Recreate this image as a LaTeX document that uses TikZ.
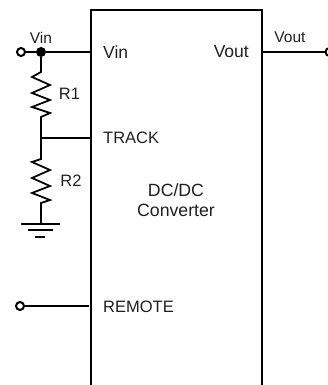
\documentclass[tikz,border=0pt]{standalone}
\usepackage{fontspec}
\setmainfont{Liberation Sans}
\begin{document}
\begin{tikzpicture}[x=1pt,y=-1pt,line cap=butt,
  wire/.style={draw=black,line width=1.75pt,line join=miter},
  term/.style={circle,draw=black,line width=2pt,fill=white,minimum size=8pt,inner sep=0pt},
  junction/.style={circle,fill=black,minimum size=10pt,inner sep=0pt},
  lab/.style={font=\fontsize{16.5}{19}\selectfont,text=black!88,inner sep=0pt},
  pin/.style={font=\fontsize{17.5}{19}\selectfont,text=black!88,inner sep=0pt},
  center label/.style={font=\fontsize{17.7}{20}\selectfont,text=black!88,inner sep=0pt},
  small/.style={font=\fontsize{15.5}{18}\selectfont,text=black!88,inner sep=0pt}]
\path[use as bounding box] (0,0) rectangle (328,385);
\clip (0,0) rectangle (328,385);
\coordinate (boxBL) at (91,386);
\coordinate (boxTL) at (91,10);
\coordinate (boxTR) at (262,10);
\coordinate (boxBR) at (262,386);
\coordinate (pinVin) at (91,52);
\coordinate (pinVout) at (262,52);
\coordinate (pinTrack) at (91,138);
\coordinate (pinRemote) at (89,306);
\coordinate (trackJ) at (41,138);
\coordinate (gnd) at (41,224);
\node[junction] (dot) at (41,52) {};
\node[term] (inT) at (21,52) {};
\node[term] (outT) at (329.5,52) {};
\node[term] (remT) at (20,306) {};
\draw[wire] (boxBL) -- (boxTL) -- (boxTR) -- (boxBR);
\draw[wire] (inT) -- (dot) -- (pinVin);
\draw[wire] (pinVout) -- (outT);
\draw[wire] (remT) -- (pinRemote);
\draw[wire] (dot) -- (41,72) -- (32,77) -- (50,85) -- (32,93) -- (50,100) -- (32,107) -- (50,113) -- (41,117) -- (trackJ);
\draw[wire] (trackJ) -- (pinTrack);
\draw[wire] (trackJ) -- (41,159) -- (32,162) -- (50,170) -- (32,178) -- (50,186) -- (32,193) -- (50,200) -- (41,203) -- (gnd);
\draw[wire] (21,224) -- (60,224);
\draw[wire] (28,230) -- (53,230);
\draw[wire] (35,237) -- (45,237);
\node[small] (vinL) at (41,38) {Vin};
\node[small] (voutL) at (290,37) {Vout};
\node[lab] (r1) at (69.5,94) {R1};
\node[lab] (r2) at (71,181) {R2};
\node[pin,anchor=west] (vinP) at (103,52) {Vin};
\node[pin,anchor=east] (voutP) at (249,52) {Vout};
\node[lab,anchor=west] (trackP) at (103,138) {TRACK};
\node[lab,anchor=west] (remP) at (103,307) {REMOTE};
\node[center label,align=center] (conv) at (176,200) {DC/DC\\Converter};
\end{tikzpicture}
\end{document}
